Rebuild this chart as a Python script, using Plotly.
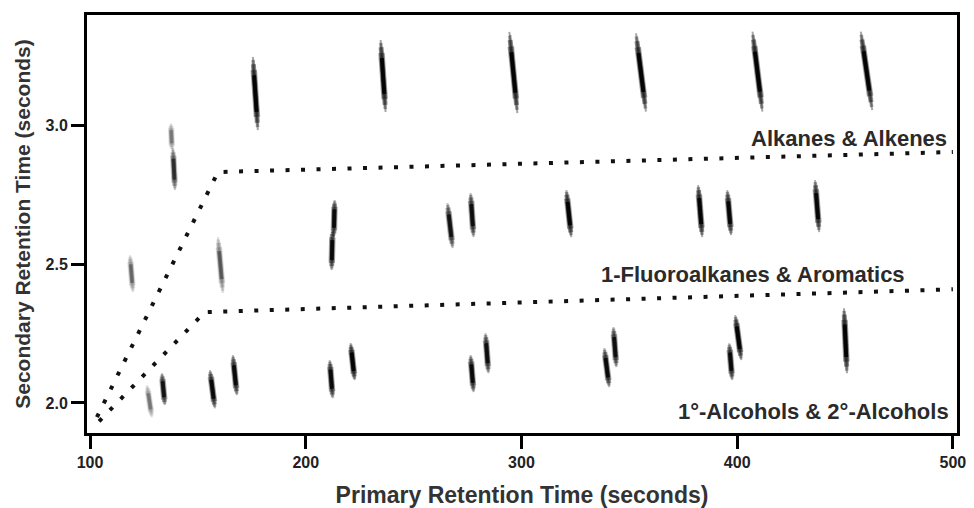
import plotly.graph_objects as go

# Axis extents and ticks (retention times in seconds)
x_range = [98.6, 501.9]
y_range = [1.892, 3.396]
x_ticks = [100, 200, 300, 400, 500]
y_ticks = [2.0, 2.5, 3.0]
y_ticklabels = ["2.0", "2.5", "3.0"]

# Peak streaks: top end (rt1, rt2), bottom end (rt1, rt2), relative intensity
spot_rt1_top = [175.5, 234.7, 294.4, 353.1, 407.1, 457.3, 137.5, 138.4,
                118.5, 159.3, 213.4, 212.4, 265.7, 276.4, 320.8, 381.9, 395.4, 436.1,
                126.4, 133.3, 155.6, 166.2, 211.1, 220.8, 276.4, 283.3, 338.4, 342.6,
                396.3, 399.1, 449.5]
spot_rt2_top = [3.245, 3.306, 3.335, 3.330, 3.336, 3.336, 3.006, 2.917,
                2.532, 2.597, 2.730, 2.622, 2.719, 2.755, 2.766, 2.784, 2.766, 2.802,
                2.064, 2.107, 2.118, 2.172, 2.154, 2.215, 2.172, 2.251, 2.197, 2.273,
                2.215, 2.316, 2.341]
spot_rt1_bottom = [177.8, 237.0, 298.1, 357.7, 411.7, 462.6, 138.0, 139.4,
                   119.9, 161.6, 213.0, 212.0, 268.1, 277.8, 323.1, 383.8, 397.2, 438.0,
                   128.7, 134.7, 157.9, 168.1, 212.5, 222.7, 277.8, 284.7, 340.7, 344.0,
                   397.7, 401.9, 450.9]
spot_rt2_bottom = [2.982, 3.047, 3.043, 3.048, 3.048, 3.054, 2.910, 2.766,
                   2.399, 2.395, 2.597, 2.478, 2.557, 2.597, 2.597, 2.597, 2.604, 2.615,
                   1.948, 1.992, 1.981, 2.028, 2.017, 2.082, 2.039, 2.107, 2.057, 2.129,
                   2.082, 2.154, 2.107]
spot_intensity = [1.0, 1.0, 1.0, 1.0, 1.0, 1.0, 0.3, 0.6,
                  0.35, 0.4, 0.9, 0.9, 0.8, 0.85, 1.0, 1.0, 0.95, 0.95,
                  0.3, 0.8, 0.9, 0.9, 0.9, 1.0, 0.9, 0.85, 0.9, 0.85,
                  0.9, 1.0, 1.0]

# Boundaries between compound classes
upper_rt1 = [103.2, 159.3, 500.0]
upper_rt2 = [1.949, 2.831, 2.903]
lower_rt1 = [104.2, 153.2, 500.0]
lower_rt2 = [1.934, 2.327, 2.409]

class_labels = ["Alkanes & Alkenes", "1-Fluoroalkanes & Aromatics",
                "1°-Alcohols & 2°-Alcohols"]
label_rt1 = [498.1, 478.7, 499.1]
label_rt2 = [2.953, 2.463, 1.970]

FONT = "Liberation Sans, Arial, sans-serif"

fig = go.Figure()

# Each streak is built from stacked segments: a thin faint full-length stroke,
# then progressively shorter and wider strokes, with a dark core in the middle
layers = [  # (fraction trimmed from each end, line width, opacity factor)
    (0.00, 2.0, 0.35),
    (0.04, 3.5, 0.35),
    (0.10, 5.0, 0.40),
    (0.18, 6.5, 0.35),
    (0.25, 4.0, 0.90),
]
for xa, ya, xb, yb, inten in zip(spot_rt1_top, spot_rt2_top, spot_rt1_bottom,
                                 spot_rt2_bottom, spot_intensity):
    for trim, width, alpha in layers:
        x0 = xa + (xb - xa) * trim
        y0 = ya + (yb - ya) * trim
        x1 = xb - (xb - xa) * trim
        y1 = yb - (yb - ya) * trim
        fig.add_trace(go.Scatter(
            x=[x0, x1], y=[y0, y1], mode="lines",
            line=dict(color=f"rgba(0,0,0,{alpha * inten:.3f})", width=width),
            hoverinfo="skip", showlegend=False,
        ))

for bx, by in ((upper_rt1, upper_rt2), (lower_rt1, lower_rt2)):
    fig.add_trace(go.Scatter(
        x=bx, y=by, mode="lines",
        line=dict(color="#111111", width=4, dash="4px,11.5px"),
        hoverinfo="skip", showlegend=False,
    ))

for text, lx, ly in zip(class_labels, label_rt1, label_rt2):
    fig.add_annotation(
        x=lx, y=ly, xref="x", yref="y", text=text, showarrow=False,
        xanchor="right", yanchor="middle",
        font=dict(family=FONT, size=22, color="#2a2a2a", weight="bold"),
    )

axis_common = dict(
    showgrid=False, zeroline=False, showline=True, linecolor="#000000",
    linewidth=3, mirror=True, ticks="outside", ticklen=13, tickwidth=3,
    tickcolor="#000000", automargin=False,
    tickfont=dict(family=FONT, size=16, color="#222222", weight="bold"),
)

fig.update_layout(
    width=974, height=508,
    margin=dict(l=87, r=17, t=15, b=75),
    paper_bgcolor="white", plot_bgcolor="white",
    showlegend=False, hovermode=False,
    xaxis=dict(
        range=x_range, tickvals=x_ticks, **axis_common,
        title=dict(text="Primary Retention Time (seconds)", standoff=22,
                   font=dict(family=FONT, size=23, color="#333333", weight="bold")),
    ),
    yaxis=dict(
        range=y_range, tickvals=y_ticks, ticktext=y_ticklabels, **axis_common,
        title=dict(text="Secondary Retention Time (seconds)", standoff=10,
                   font=dict(family=FONT, size=21, color="#333333", weight="bold")),
    ),
)

fig.write_html("out.html")
